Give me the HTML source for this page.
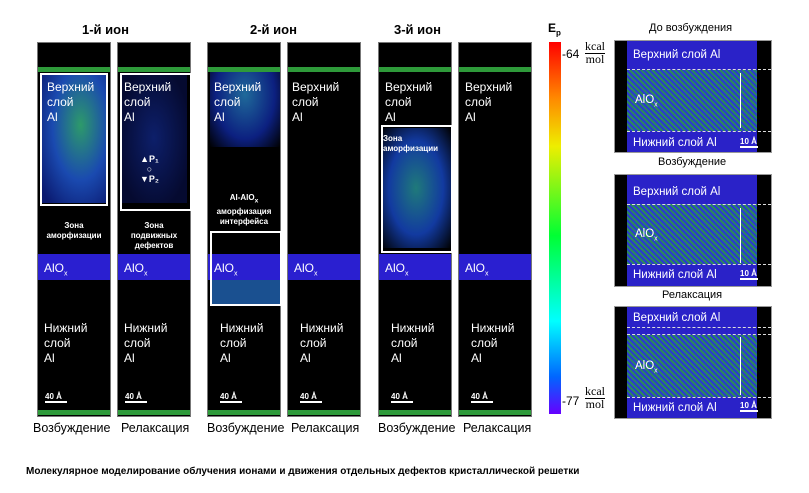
<!DOCTYPE html><html><head><meta charset="utf-8"><style>
body{margin:0;width:809px;height:493px;background:#fff;position:relative;overflow:hidden;font-family:"Liberation Sans",sans-serif}
.a{position:absolute}
.col{position:absolute;top:42px;height:375px;width:74px;background:#000;border:1px solid #777;box-sizing:border-box}
.top{position:absolute;left:0;right:0;top:24px;height:5px;background:#2e9a3a}
.bot{position:absolute;left:0;right:0;bottom:1px;height:5px;background:#2e9a3a}
.alo{position:absolute;left:0;right:0;top:211px;height:26px;background:#2a1fd0}
.t{position:absolute;color:#fff;font-size:12px;line-height:15px}
.s{position:absolute;color:#fff;font-size:8px;font-weight:bold;text-align:center;line-height:10px}
.box{position:absolute;border:2px solid #fff;box-sizing:border-box}
.h{position:absolute;font-size:13px;font-weight:bold;color:#000}
.cap{position:absolute;font-size:12.5px;color:#000;top:421px}
.rp{position:absolute;left:614px;width:158px;height:113px;background:#000;border:1px solid #999;box-sizing:border-box}
.in{position:absolute;left:12px;right:14px;top:0;bottom:0;background:#2a22c8}
.gr{position:absolute;left:0;right:0;background:repeating-linear-gradient(45deg,#2c8a5a 0 2px,#2a3ad0 2px 4px)}
.dl{position:absolute;left:12px;right:0;border-top:1px dashed #ddd}
.sb{position:absolute;font-size:8px;color:#fff;font-weight:bold;border-bottom:2px solid #fff;width:22px}
</style></head><body>
<div class="h" style="left:82px;top:22px">1-й ион</div>
<div class="h" style="left:250px;top:22px">2-й ион</div>
<div class="h" style="left:394px;top:22px">3-й ион</div>

<div class="col" style="left:37px"><div class="top"></div>
<div class="a" style="left:3px;top:30px;width:66px;height:130px;background:radial-gradient(ellipse at 60% 40%,#2d9a6a,#1a4ab0 50%,#0b1a70 90%)"></div>
<div class="alo"></div><div class="bot"></div>
<div class="box" style="left:2px;top:30px;width:68px;height:133px"></div>
<div class="t" style="left:9px;top:37px">Верхний<br>слой<br>Al</div>
<div class="s" style="left:0;right:0;top:178px">Зона<br>аморфизации</div>
<div class="t" style="left:6px;top:218px">AlO<sub style="font-size:7px">x</sub></div>
<div class="t" style="left:6px;top:278px">Нижний<br>слой<br>Al</div>
<div class="sb" style="left:7px;top:349px">40 Å</div></div>

<div class="col" style="left:117px"><div class="top"></div>
<div class="a" style="left:3px;top:30px;width:66px;height:130px;background:radial-gradient(ellipse at 50% 50%,#0d1f6a,#050a30 80%)"></div>
<div class="alo"></div><div class="bot"></div>
<div class="box" style="left:2px;top:30px;width:72px;height:138px"></div>
<div class="t" style="left:6px;top:37px">Верхний<br>слой<br>Al</div>
<div class="s" style="left:22px;top:111px;font-size:9px">▲P₁<br>○<br>▼P₂</div>
<div class="s" style="left:0;right:0;top:178px">Зона<br>подвижных<br>дефектов</div>
<div class="t" style="left:6px;top:218px">AlO<sub style="font-size:7px">x</sub></div>
<div class="t" style="left:6px;top:278px">Нижний<br>слой<br>Al</div>
<div class="sb" style="left:7px;top:349px">40 Å</div></div>

<div class="col" style="left:207px"><div class="top"></div>
<div class="a" style="left:2px;top:29px;width:70px;height:75px;background:radial-gradient(ellipse at 50% 30%,#1f6a9a,#0c2080 60%,#000 100%)"></div>
<div class="alo"></div>
<div class="a" style="left:2px;top:237px;width:70px;height:24px;background:#1a5090"></div><div class="bot"></div>
<div class="box" style="left:2px;top:188px;width:72px;height:75px"></div>
<div class="t" style="left:6px;top:37px">Верхний<br>слой<br>Al</div>
<div class="s" style="left:0;right:0;top:150px">Al-AlO<sub>x</sub><br>аморфизация<br>интерфейса</div>
<div class="t" style="left:6px;top:218px">AlO<sub style="font-size:7px">x</sub></div>
<div class="t" style="left:12px;top:278px">Нижний<br>слой<br>Al</div>
<div class="sb" style="left:12px;top:349px">40 Å</div></div>

<div class="col" style="left:287px"><div class="top"></div>
<div class="alo"></div><div class="bot"></div>
<div class="t" style="left:4px;top:37px">Верхний<br>слой<br>Al</div>
<div class="t" style="left:6px;top:218px">AlO<sub style="font-size:7px">x</sub></div>
<div class="t" style="left:12px;top:278px">Нижний<br>слой<br>Al</div>
<div class="sb" style="left:12px;top:349px">40 Å</div></div>

<div class="col" style="left:378px"><div class="top"></div>
<div class="a" style="left:2px;top:85px;width:70px;height:120px;background:radial-gradient(ellipse at 50% 50%,#1f7a7a,#123aa0 55%,#000 100%)"></div>
<div class="alo"></div><div class="bot"></div>
<div class="box" style="left:2px;top:82px;width:72px;height:128px"></div>
<div class="t" style="left:6px;top:37px">Верхний<br>слой<br>Al</div>
<div class="s" style="left:4px;top:91px;text-align:left">Зона<br>аморфизации</div>
<div class="t" style="left:6px;top:218px">AlO<sub style="font-size:7px">x</sub></div>
<div class="t" style="left:12px;top:278px">Нижний<br>слой<br>Al</div>
<div class="sb" style="left:12px;top:349px">40 Å</div></div>

<div class="col" style="left:458px"><div class="top"></div>
<div class="alo"></div><div class="bot"></div>
<div class="t" style="left:6px;top:37px">Верхний<br>слой<br>Al</div>
<div class="t" style="left:6px;top:218px">AlO<sub style="font-size:7px">x</sub></div>
<div class="t" style="left:12px;top:278px">Нижний<br>слой<br>Al</div>
<div class="sb" style="left:12px;top:349px">40 Å</div></div>

<div class="cap" style="left:33px">Возбуждение</div><div class="cap" style="left:121px">Релаксация</div>
<div class="cap" style="left:207px">Возбуждение</div><div class="cap" style="left:291px">Релаксация</div>
<div class="cap" style="left:378px">Возбуждение</div><div class="cap" style="left:463px">Релаксация</div>

<div class="a" style="left:548px;top:21px;font-size:12px;font-weight:bold">E<sub style="font-size:8px">p</sub></div>
<div class="a" style="left:549px;top:42px;width:12px;height:372px;background:linear-gradient(#f00,#f80 15%,#ee0 28%,#0f3 52%,#0ff 75%,#06f 90%,#60f)"></div>
<div class="a" style="left:562px;top:47px;font-size:12px">-64</div>
<div class="a" style="left:585px;top:40px;font-family:'Liberation Serif',serif;font-size:12px;text-align:center;line-height:13px"><span style="border-bottom:1px solid #000">kcal</span><br>mol</div>
<div class="a" style="left:562px;top:394px;font-size:12px">-77</div>
<div class="a" style="left:585px;top:385px;font-family:'Liberation Serif',serif;font-size:12px;text-align:center;line-height:13px"><span style="border-bottom:1px solid #000">kcal</span><br>mol</div>

<div class="a" style="left:649px;top:22px;font-size:11px">До возбуждения</div>
<div class="rp" style="top:40px"><div class="in"><div class="gr" style="top:29px;height:61px"></div></div>
<div class="dl" style="top:28px"></div><div class="dl" style="top:90px"></div>
<div class="t" style="left:18px;top:7px;font-size:11.5px">Верхний слой Al</div>
<div class="t" style="left:20px;top:52px;font-size:11.5px">AlO<sub style="font-size:7px">x</sub></div>
<div class="a" style="left:125px;top:32px;width:1px;height:55px;background:#fff"></div>
<div class="t" style="left:18px;top:95px;font-size:11.5px">Нижний слой Al</div>
<div class="sb" style="left:125px;top:96px;width:18px">10 Å</div></div>

<div class="a" style="left:658px;top:156px;font-size:11px">Возбуждение</div>
<div class="rp" style="top:174px"><div class="in"><div class="gr" style="top:29px;height:60px"></div></div>
<div class="dl" style="top:29px"></div><div class="dl" style="top:89px"></div>
<div class="t" style="left:18px;top:10px;font-size:11.5px">Верхний слой Al</div>
<div class="t" style="left:20px;top:52px;font-size:11.5px">AlO<sub style="font-size:7px">x</sub></div>
<div class="a" style="left:125px;top:33px;width:1px;height:55px;background:#fff"></div>
<div class="t" style="left:18px;top:93px;font-size:11.5px">Нижний слой Al</div>
<div class="sb" style="left:125px;top:94px;width:18px">10 Å</div></div>

<div class="a" style="left:662px;top:289px;font-size:11px">Релаксация</div>
<div class="rp" style="top:306px"><div class="in"><div class="gr" style="top:28px;height:62px"></div></div>
<div class="dl" style="top:20px"></div><div class="dl" style="top:27px"></div><div class="dl" style="top:90px"></div>
<div class="t" style="left:18px;top:4px;font-size:11.5px">Верхний слой Al</div>
<div class="t" style="left:20px;top:52px;font-size:11.5px">AlO<sub style="font-size:7px">x</sub></div>
<div class="a" style="left:125px;top:30px;width:1px;height:58px;background:#fff"></div>
<div class="t" style="left:18px;top:94px;font-size:11.5px">Нижний слой Al</div>
<div class="sb" style="left:125px;top:94px;width:18px">10 Å</div></div>

<div class="a" style="left:26px;top:466px;font-size:10px;font-weight:bold">Молекулярное моделирование облучения ионами и движения отдельных дефектов кристаллической решетки</div>
</body></html>
